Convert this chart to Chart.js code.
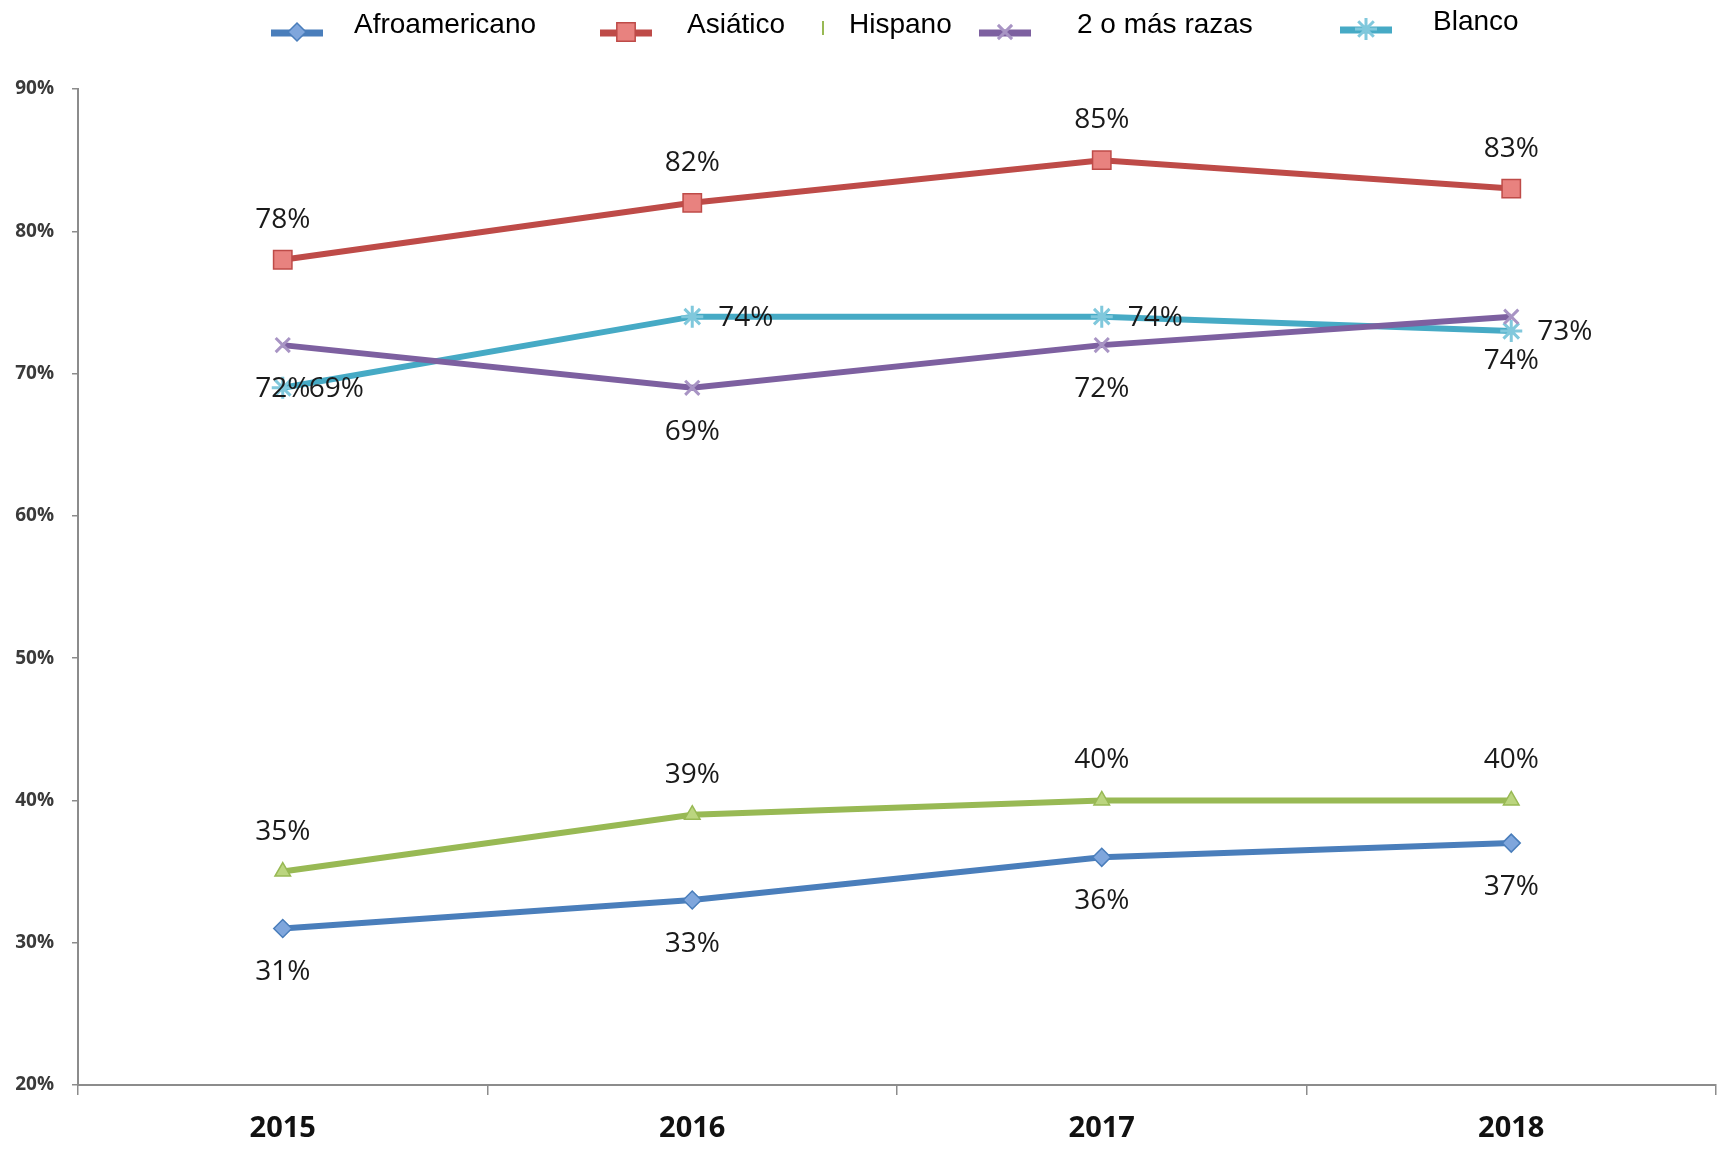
<!DOCTYPE html>
<html>
<head>
<meta charset="utf-8">
<script src="https://cdn.jsdelivr.net/npm/chart.js@4/dist/chart.umd.min.js"></script>
<style>
  html, body { margin: 0; padding: 0; background: #fff; }
  #wrap { width: 1733px; height: 1151px; position: relative; }
</style>
</head>
<body>
<div id="wrap"><canvas id="chart"></canvas></div>
<script>
// datos
const years = ['2015', '2016', '2017', '2018'];
const seriesNames = ['Afroamericano', 'Asiático', 'Hispano', '2 o más razas', 'Blanco'];
const afroamericano = [31, 33, 36, 37];
const asiatico      = [78, 82, 85, 83];
const hispano       = [35, 39, 40, 40];
const masRazas      = [72, 69, 72, 74];
const blanco        = [69, 74, 74, 73];
const yTicks = [20, 30, 40, 50, 60, 70, 80, 90];

// estilo de cada serie
const lineColors = ['#4A7EBB', '#BE4B48', '#98B954', '#7D60A0', '#46AAC5'];
const fillColors = ['#7FA6DC', '#E8827F', '#BBD57F', '#A894C4', '#80C8DC'];
const markers    = ['rectRot', 'rect', 'triangle', 'crossRot', 'star'];
const markerSize = [9, 13, 9, 10, 11];
const labelPos   = ['below', 'above', 'above', 'below', 'right'];
const legendX    = [271, 600, 823, 979, 1340];
const legendTextX = [354, 687, 849, 1077, 1433];

const values = [afroamericano, asiatico, hispano, masRazas, blanco];

const datasets = values.map((data, i) => ({
  label: seriesNames[i],
  data,
  borderColor: lineColors[i],
  backgroundColor: fillColors[i],
  borderWidth: 6,
  pointStyle: markers[i],
  pointRadius: markerSize[i],
  pointBorderColor: i >= 3 ? fillColors[i] : lineColors[i],
  pointBackgroundColor: fillColors[i],
  pointBorderWidth: i >= 3 ? 3 : 1.5,
  tension: 0,
}));

// etiquetas de valor junto a cada punto
const valueLabels = {
  id: 'valueLabels',
  afterDatasetsDraw(chart) {
    const ctx = chart.ctx;
    ctx.save();
    ctx.font = '28px "Open Sans"';
    ctx.fillStyle = '#1a1a1a';
    ctx.textBaseline = 'middle';
    chart.data.datasets.forEach((ds, i) => {
      const meta = chart.getDatasetMeta(i);
      meta.data.forEach((pt, j) => {
        const txt = ds.data[j] + '%';
        let x = pt.x, y = pt.y;
        if (labelPos[i] === 'above') { ctx.textAlign = 'center'; y -= 40; }
        else if (labelPos[i] === 'below') { ctx.textAlign = 'center'; y += 44; }
        else { ctx.textAlign = 'left'; x += 26; y += 1; }
        ctx.fillText(txt, x, y);
      });
    });
    ctx.restore();
  }
};

// leyenda estilo Excel: línea con marcador
const topLegend = {
  id: 'topLegend',
  afterDraw(chart) {
    const ctx = chart.ctx;
    ctx.save();
    chart.data.datasets.forEach((ds, i) => {
      const y = i === 4 ? 22 : 25;
      const x0 = legendX[i];
      if (i === 2) {
        ctx.strokeStyle = lineColors[i];
        ctx.lineWidth = 2;
        ctx.beginPath();
        ctx.moveTo(x0, y - 4);
        ctx.lineTo(x0, y + 10);
        ctx.stroke();
      } else {
        ctx.strokeStyle = lineColors[i];
        ctx.lineWidth = 7;
        ctx.beginPath();
        ctx.moveTo(x0, y + 8);
        ctx.lineTo(x0 + 52, y + 8);
        ctx.stroke();
        ctx.fillStyle = fillColors[i];
        ctx.strokeStyle = ds.pointBorderColor;
        ctx.lineWidth = ds.pointBorderWidth;
        Chart.helpers.drawPoint(ctx, {
          pointStyle: markers[i],
          radius: markerSize[i],
          borderWidth: ds.pointBorderWidth,
        }, x0 + 26, y + 7);
      }
      ctx.font = '28px "Liberation Sans"';
      ctx.fillStyle = '#000';
      ctx.textAlign = 'left';
      ctx.textBaseline = 'middle';
      ctx.fillText(ds.label, legendTextX[i], y);
    });
    ctx.restore();
  }
};

new Chart(document.getElementById('chart'), {
  type: 'line',
  data: { labels: years, datasets },
  plugins: [valueLabels, topLegend],
  options: {
    responsive: true,
    maintainAspectRatio: false,
    animation: false,
    layout: { padding: { top: 89, right: 17, left: 0, bottom: 0 } },
    plugins: {
      legend: { display: false },
      tooltip: { enabled: false },
    },
    scales: {
      x: {
        offset: true,
        afterFit: (s) => { s.height = 66; },
        border: { color: '#8c8c8c', width: 2 },
        grid: { offset: true, drawOnChartArea: false, tickLength: 10, color: '#8c8c8c', lineWidth: 1.5 },
        ticks: { color: '#111', padding: 16, font: { family: '"Open Sans"', size: 29, weight: 'bold' } },
      },
      y: {
        min: 20,
        max: 90,
        afterFit: (s) => { s.width = 78; },
        afterBuildTicks: (s) => { s.ticks = yTicks.map(v => ({ value: v })); },
        border: { color: '#8c8c8c', width: 2 },
        grid: { drawOnChartArea: false, tickLength: 6, color: '#8c8c8c', lineWidth: 1.5 },
        ticks: {
          color: '#3a3a3a',
          padding: 18,
          font: { family: '"Open Sans"', size: 19, weight: 'bold' },
          callback: (v) => v + '%',
        },
      },
    },
  },
});
</script>
</body>
</html>
